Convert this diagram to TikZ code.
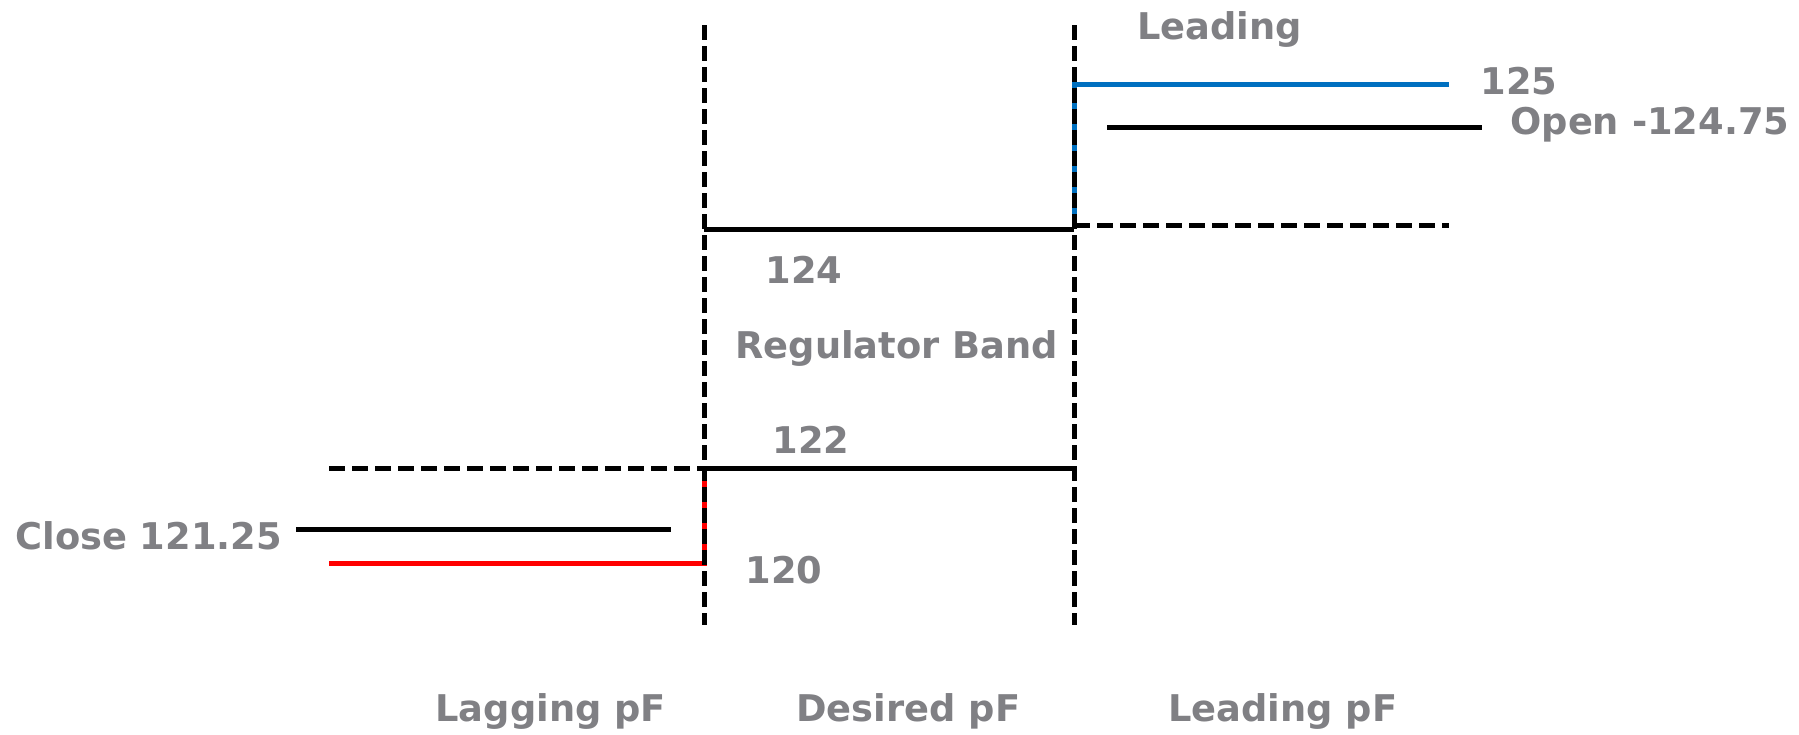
\documentclass[tikz,border=0pt]{standalone}
\usepackage{fontspec}
\setmainfont{DejaVu Sans}
\definecolor{labelgray}{RGB}{128,128,132}
\definecolor{limitblue}{RGB}{0,112,192}
\definecolor{limitred}{RGB}{255,0,0}
\begin{document}
\begin{tikzpicture}[x=0.5pt,y=-0.5pt,
  lbl/.style={inner sep=0pt, anchor=base west, text=labelgray,
    font=\fontsize{18.4}{22}\selectfont\bfseries},
  level/.style={line width=2.5pt},
  guide/.style={line width=2.5pt, dash pattern=on 8pt off 3.5pt},
  bandedge/.style={line width=2.5pt, dash pattern=on 7.5pt off 3pt}]
\useasboundingbox (0,0) rectangle (1799,734);

% band edges
\coordinate (LT) at (704,25);  \coordinate (LB) at (704,625);
\coordinate (RT) at (1074,25); \coordinate (RB) at (1074,625);

% regulator band limits
\coordinate (u1) at (704,229);  \coordinate (u2) at (1074,229);
\coordinate (d1) at (704,468);  \coordinate (d2) at (1074,468);

% leading side
\coordinate (bl1) at (1074,84);  \coordinate (bl2) at (1449,84);
\coordinate (op1) at (1107,127); \coordinate (op2) at (1482,127);
\coordinate (rg1) at (1074,225); \coordinate (rg2) at (1449,225);

% lagging side
\coordinate (lg1) at (329,468);  \coordinate (lg2) at (704,468);
\coordinate (cl1) at (296,529);  \coordinate (cl2) at (671,529);
\coordinate (rd1) at (329,563);  \coordinate (rd2) at (704,563);

% coloured limit lines
\draw[level, limitblue] (bl2) -- (bl1) -- (rg1);
\draw[level, limitred] (rd1) -- (rd2) -- (lg2);

% dashed band edges
\draw[bandedge] (LT) -- (LB);
\draw[bandedge] (RT) -- (RB);

% solid and dashed levels
\draw[level] (u1) -- (u2);
\draw[level] (d1) -- (d2);
\draw[level] (op1) -- (op2);
\draw[level] (cl1) -- (cl2);
\draw[guide] (rg1) -- (rg2);
\draw[guide] (lg1) -- (lg2);

% labels
\node[lbl] (tLeading) at (1137,39) {Leading};
\node[lbl] (t125) at (1480,94) {125};
\node[lbl] (tOpen) at (1510,134) {Open -124.75};
\node[lbl] (t124) at (765,283) {124};
\node[lbl] (tBand) at (735,358) {Regulator Band};
\node[lbl] (t122) at (772,453) {122};
\node[lbl] (tClose) at (15,549) {Close 121.25};
\node[lbl] (t120) at (745,583) {120};
\node[lbl] (tLag) at (435,721) {Lagging pF};
\node[lbl] (tDes) at (796,721) {Desired pF};
\node[lbl] (tLead) at (1168,721) {Leading pF};
\end{tikzpicture}
\end{document}
